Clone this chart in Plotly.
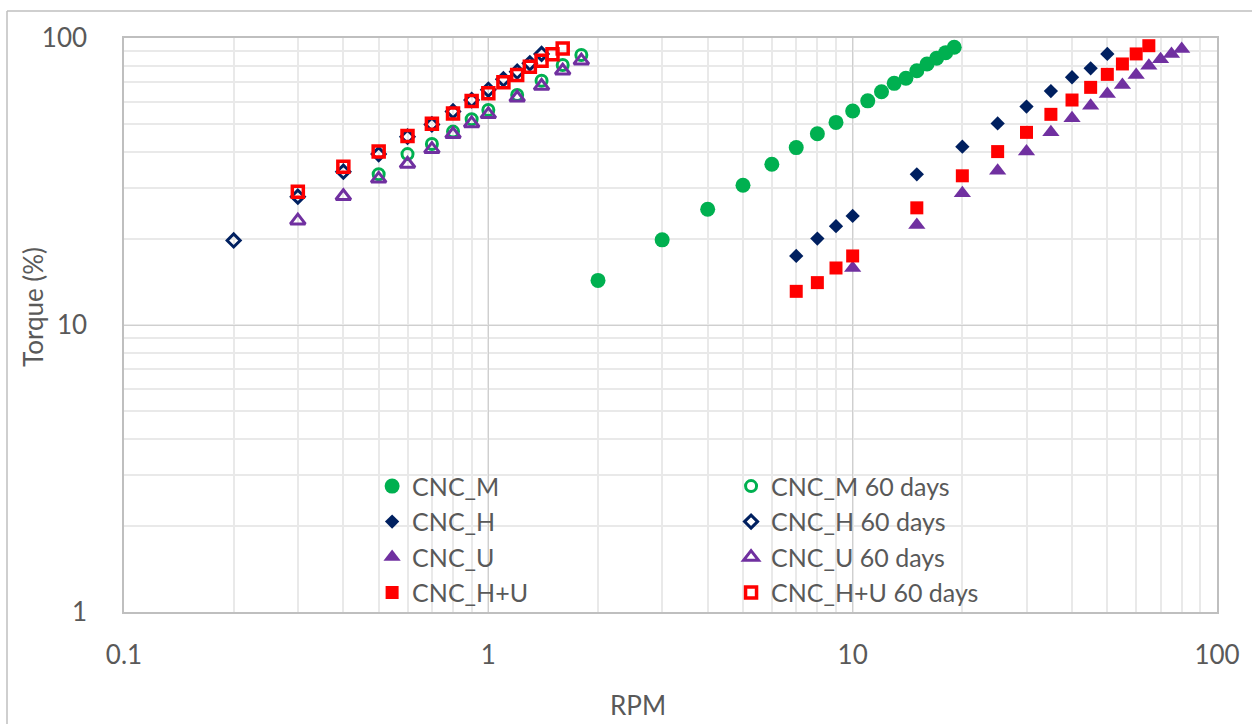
import plotly.graph_objects as go

# ---- data ----
rpm_m = [2, 3, 4, 5, 6, 7, 8, 9, 10, 11, 12, 13, 14, 15, 16, 17, 18, 19]
tq_m = [14.3, 19.8, 25.3, 30.7, 36.3, 41.5, 46.4, 50.8, 55.7, 60.4, 65, 69.5, 72.4, 76.9, 81.2, 85, 88.9, 92.8]

rpm_h = [7, 8, 9, 10, 15, 20, 25, 30, 35, 40, 45, 50]
tq_h = [17.4, 20, 22.1, 24, 33.5, 41.8, 50.4, 57.7, 65.3, 73, 78.4, 88]

rpm_u = [10, 15, 20, 25, 30, 35, 40, 45, 50, 55, 60, 65, 70, 75, 80]
tq_u = [15.8, 22.3, 28.8, 34.5, 40.2, 46.9, 52.5, 58.1, 63.8, 68.6, 74.3, 80.1, 84.3, 88, 91.5]

rpm_hu = [7, 8, 9, 10, 15, 20, 25, 30, 35, 40, 45, 50, 55, 60, 65]
tq_hu = [13.1, 14.05, 15.8, 17.4, 25.6, 33.1, 40.2, 46.9, 54.2, 60.8, 67.3, 74.7, 81.2, 88, 94]

rpm_m60 = [0.5, 0.6, 0.7, 0.8, 0.9, 1.0, 1.2, 1.4, 1.6, 1.8]
tq_m60 = [33.5, 39.4, 42.7, 47.2, 52.1, 56.1, 63.3, 71, 80.5, 87.3]

rpm_h60 = [0.2, 0.3, 0.4, 0.5, 0.6, 0.7, 0.8, 0.9, 1.0, 1.1, 1.2, 1.3, 1.4]
tq_h60 = [19.7, 28, 34.2, 39.4, 45.3, 50, 55.5, 60.8, 66, 71.8, 76.3, 81.6, 88]

rpm_u60 = [0.3, 0.4, 0.5, 0.6, 0.7, 0.8, 0.9, 1.0, 1.2, 1.4, 1.6, 1.8]
tq_u60 = [23.1, 28.1, 32.3, 36.4, 41, 46.2, 50.4, 54.2, 61.9, 68, 76.9, 83.4]

rpm_hu60 = [0.3, 0.4, 0.5, 0.6, 0.7, 0.8, 0.9, 1.0, 1.1, 1.2, 1.3, 1.4, 1.5, 1.6]
tq_hu60 = [29.1, 35.6, 40.2, 45.6, 50.3, 54.6, 60.3, 64.2, 70.1, 74.3, 79.4, 83.4, 87.7, 92]

GREEN = "#00B050"
NAVY = "#002060"
PURPLE = "#7030A0"
RED = "#FF0000"
TXT = "#595959"
FONT = "Lato"

fig = go.Figure()

def add(x, y, name, symbol, color, size, legend, open_=False, lw=3):
    if open_:
        marker = dict(symbol=symbol, size=size, color=color, line=dict(color=color, width=lw))
    else:
        marker = dict(symbol=symbol, size=size, color=color, line=dict(width=0))
    fig.add_trace(go.Scatter(x=x, y=y, mode="markers", name=name, marker=marker,
                             legend=legend, showlegend=True))

add(rpm_m, tq_m, "CNC_M", "circle", GREEN, 15, "legend")
add(rpm_m60, tq_m60, "CNC_M 60 days", "circle-open", GREEN, 11, "legend2", True)
add(rpm_h, tq_h, "CNC_H", "diamond", NAVY, 11, "legend")
add(rpm_h60, tq_h60, "CNC_H 60 days", "diamond-open", NAVY, 10, "legend2", True)
add(rpm_u, tq_u, "CNC_U", "triangle-up", PURPLE, 15, "legend")
add(rpm_u60, tq_u60, "CNC_U 60 days", "triangle-up-open", PURPLE, 13, "legend2", True)
add(rpm_hu, tq_hu, "CNC_H+U", "square", RED, 13, "legend")
add(rpm_hu60, tq_hu60, "CNC_H+U 60 days", "square-open", RED, 11, "legend2", True, 3.5)

axis_common = dict(
    type="log",
    dtick=1,
    showgrid=True,
    gridcolor="#cfcfcf",
    gridwidth=1.3,
    showline=True,
    linecolor="#bfbfbf",
    linewidth=1.5,
    mirror=True,
    ticks="",
    zeroline=False,
    tickfont=dict(family=FONT, size=26, color=TXT),
    minor=dict(showgrid=True, gridcolor="#e9e9e9", gridwidth=1.5, dtick="D1", ticks=""),
)

fig.update_xaxes(**axis_common, range=[-1, 2], tickvals=[0.1, 1, 10, 100],
                 ticktext=["0.1", "1", "10", "100"], ticklabelstandoff=19)
fig.update_yaxes(**axis_common, range=[0, 2], tickvals=[1, 10, 100],
                 ticktext=["1", "10", "100"], ticklabelstandoff=30)

legend_style = dict(
    font=dict(family=FONT, size=25, color=TXT),
    bgcolor="rgba(0,0,0,0)",
    borderwidth=0,
    xanchor="left",
    yanchor="top",
    orientation="v",
    itemclick=False,
)
fig.update_layout(
    legend=dict(**legend_style, x=0.227, y=0.259),
    legend2=dict(**legend_style, x=0.5554, y=0.259),
)

fig.add_annotation(text="RPM", xref="paper", yref="paper", x=(638 - 124) / 1093, y=-(705 - 612) / 574,
                   showarrow=False, font=dict(family=FONT, size=26, color=TXT),
                   xanchor="center", yanchor="middle")
fig.add_annotation(text="Torque (%)", xref="paper", yref="paper", x=-(124 - 33) / 1093, y=(612 - 307) / 574,
                   showarrow=False, textangle=-90, font=dict(family=FONT, size=26, color=TXT),
                   xanchor="center", yanchor="middle")

# outer chart-area frame (left and top edges visible)
fig.add_shape(type="line", xref="paper", yref="paper",
              x0=-(124 - 7) / 1093, x1=-(124 - 7) / 1093, y0=(612 - 11) / 574, y1=-(800 - 612) / 574,
              line=dict(color="#bfbfbf", width=1.5), layer="below")
fig.add_shape(type="line", xref="paper", yref="paper",
              x0=-(124 - 7) / 1093, x1=(1300 - 124) / 1093, y0=(612 - 11) / 574, y1=(612 - 11) / 574,
              line=dict(color="#bfbfbf", width=1.5), layer="below")

fig.update_layout(
    width=1252,
    height=724,
    margin=dict(l=124, r=35, t=38, b=112),
    paper_bgcolor="white",
    plot_bgcolor="white",
    font=dict(family=FONT, color=TXT),
)

fig.write_html("out.html")
